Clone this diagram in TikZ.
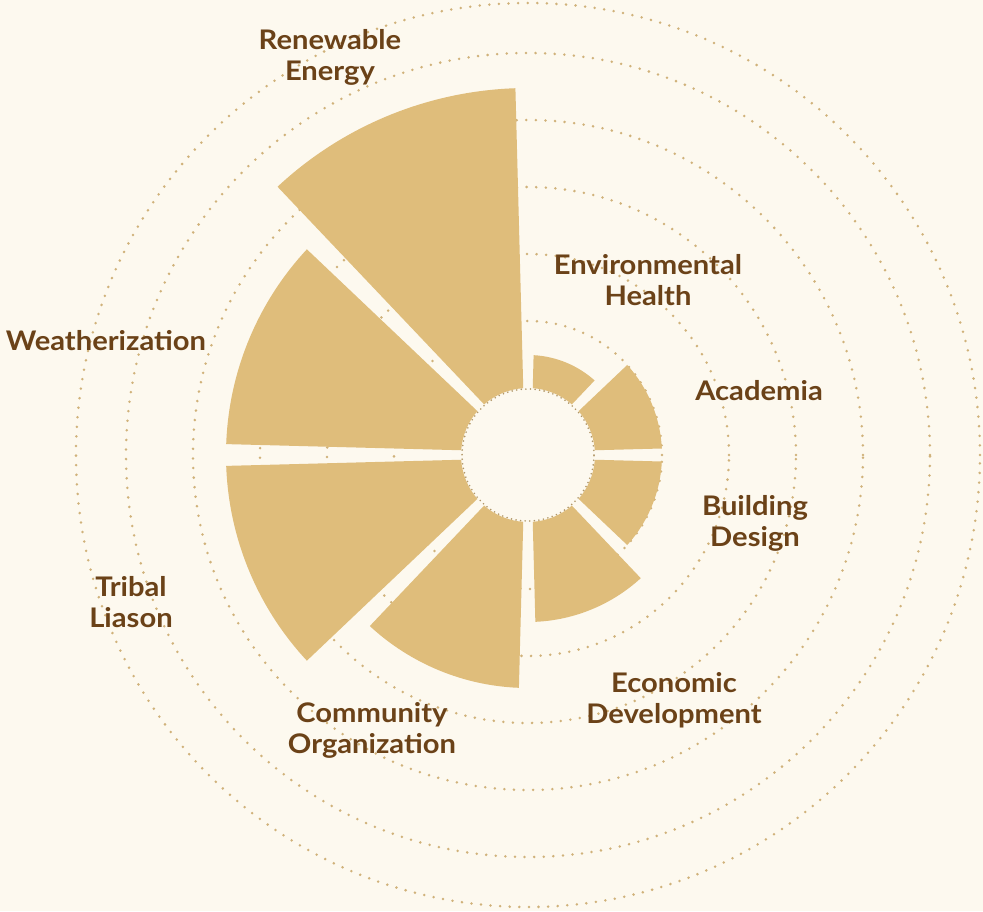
\documentclass[tikz,border=0pt]{standalone}
\usepackage{fontspec}
\setmainfont{Lato}[FakeStretch=1.08]
\definecolor{paper}{RGB}{253,249,239}
\definecolor{wedge}{RGB}{223,189,123}
\definecolor{ringdot}{RGB}{208,178,122}
\definecolor{labelbrown}{RGB}{107,66,24}
\begin{document}
\begin{tikzpicture}
        [x=1pt,y=1pt,
        sectordecorate/.style={fill=wedge,draw=none},%
        ringdecorate/.style={draw=ringdot,line width=2.8pt,line cap=round,dash pattern=on 0pt off 9.6pt},%
        innerringdecorate/.style={draw=ringdot!85!black,line width=1.8pt,line cap=round,dash pattern=on 0pt off 4.6pt},%
        labeldecorate/.style={text=labelbrown,font=\bfseries\fontsize{27}{31}\selectfont,align=center,inner sep=0pt}]
        %% background
        \fill[paper] (-528,-456) rectangle (455,455);
        \useasboundingbox (-528,-456) rectangle (455,455);
        \coordinate (centre) at (0,0);
        %% dotted rings
        \foreach \radius in {134,201,268,335,402,452}
        {
          \draw[ringdecorate] (centre) circle[radius=\radius];
        }
        %% sectors
        \foreach \sectorname/\from/\to/\radius in { academia/0/45/134,
          envhealth/45/90/100, renewable/90/135/367, weatherization/135/180/302,
          tribal/180/225/302, community/225/270/233, economic/270/315/167,
          building/315/360/134}
        {
          \pgfmathsetmacro{\fromin}{\from+1.5+asin(3/67)}
          \pgfmathsetmacro{\toin}{\to-1.5-asin(3/67)}
          \pgfmathsetmacro{\fromout}{\from+1.5+asin(3/\radius)}
          \pgfmathsetmacro{\toout}{\to-1.5-asin(3/\radius)}
          \fill[sectordecorate] (\fromin:67) -- (\fromout:\radius)
            arc[start angle=\fromout,end angle=\toout,radius=\radius]
            -- (\toin:67) arc[start angle=\toin,end angle=\fromin,radius=67] -- cycle;
        }
        \draw[innerringdecorate] (centre) circle[radius=66];
        %% labels
        \foreach \nodename/\x/\y/\labeltext in { renewablelabel/-198/398/{Renewable\\Energy},
          envhealthlabel/120/175/{Environmental\\Health}, academialabel/231/64/{Academia},
          buildinglabel/227/-68/{Building\\Design}, economiclabel/146/-245/{Economic\\Development},
          communitylabel/-156/-275/{Community\\Organization}, triballabel/-397/-147/{Tribal\\Liason},
          weatherizationlabel/-422/114/{Weatherization}}
        {
          \node (\nodename) at (\x,\y) [labeldecorate] {\labeltext};
        }
\end{tikzpicture}
\end{document}
